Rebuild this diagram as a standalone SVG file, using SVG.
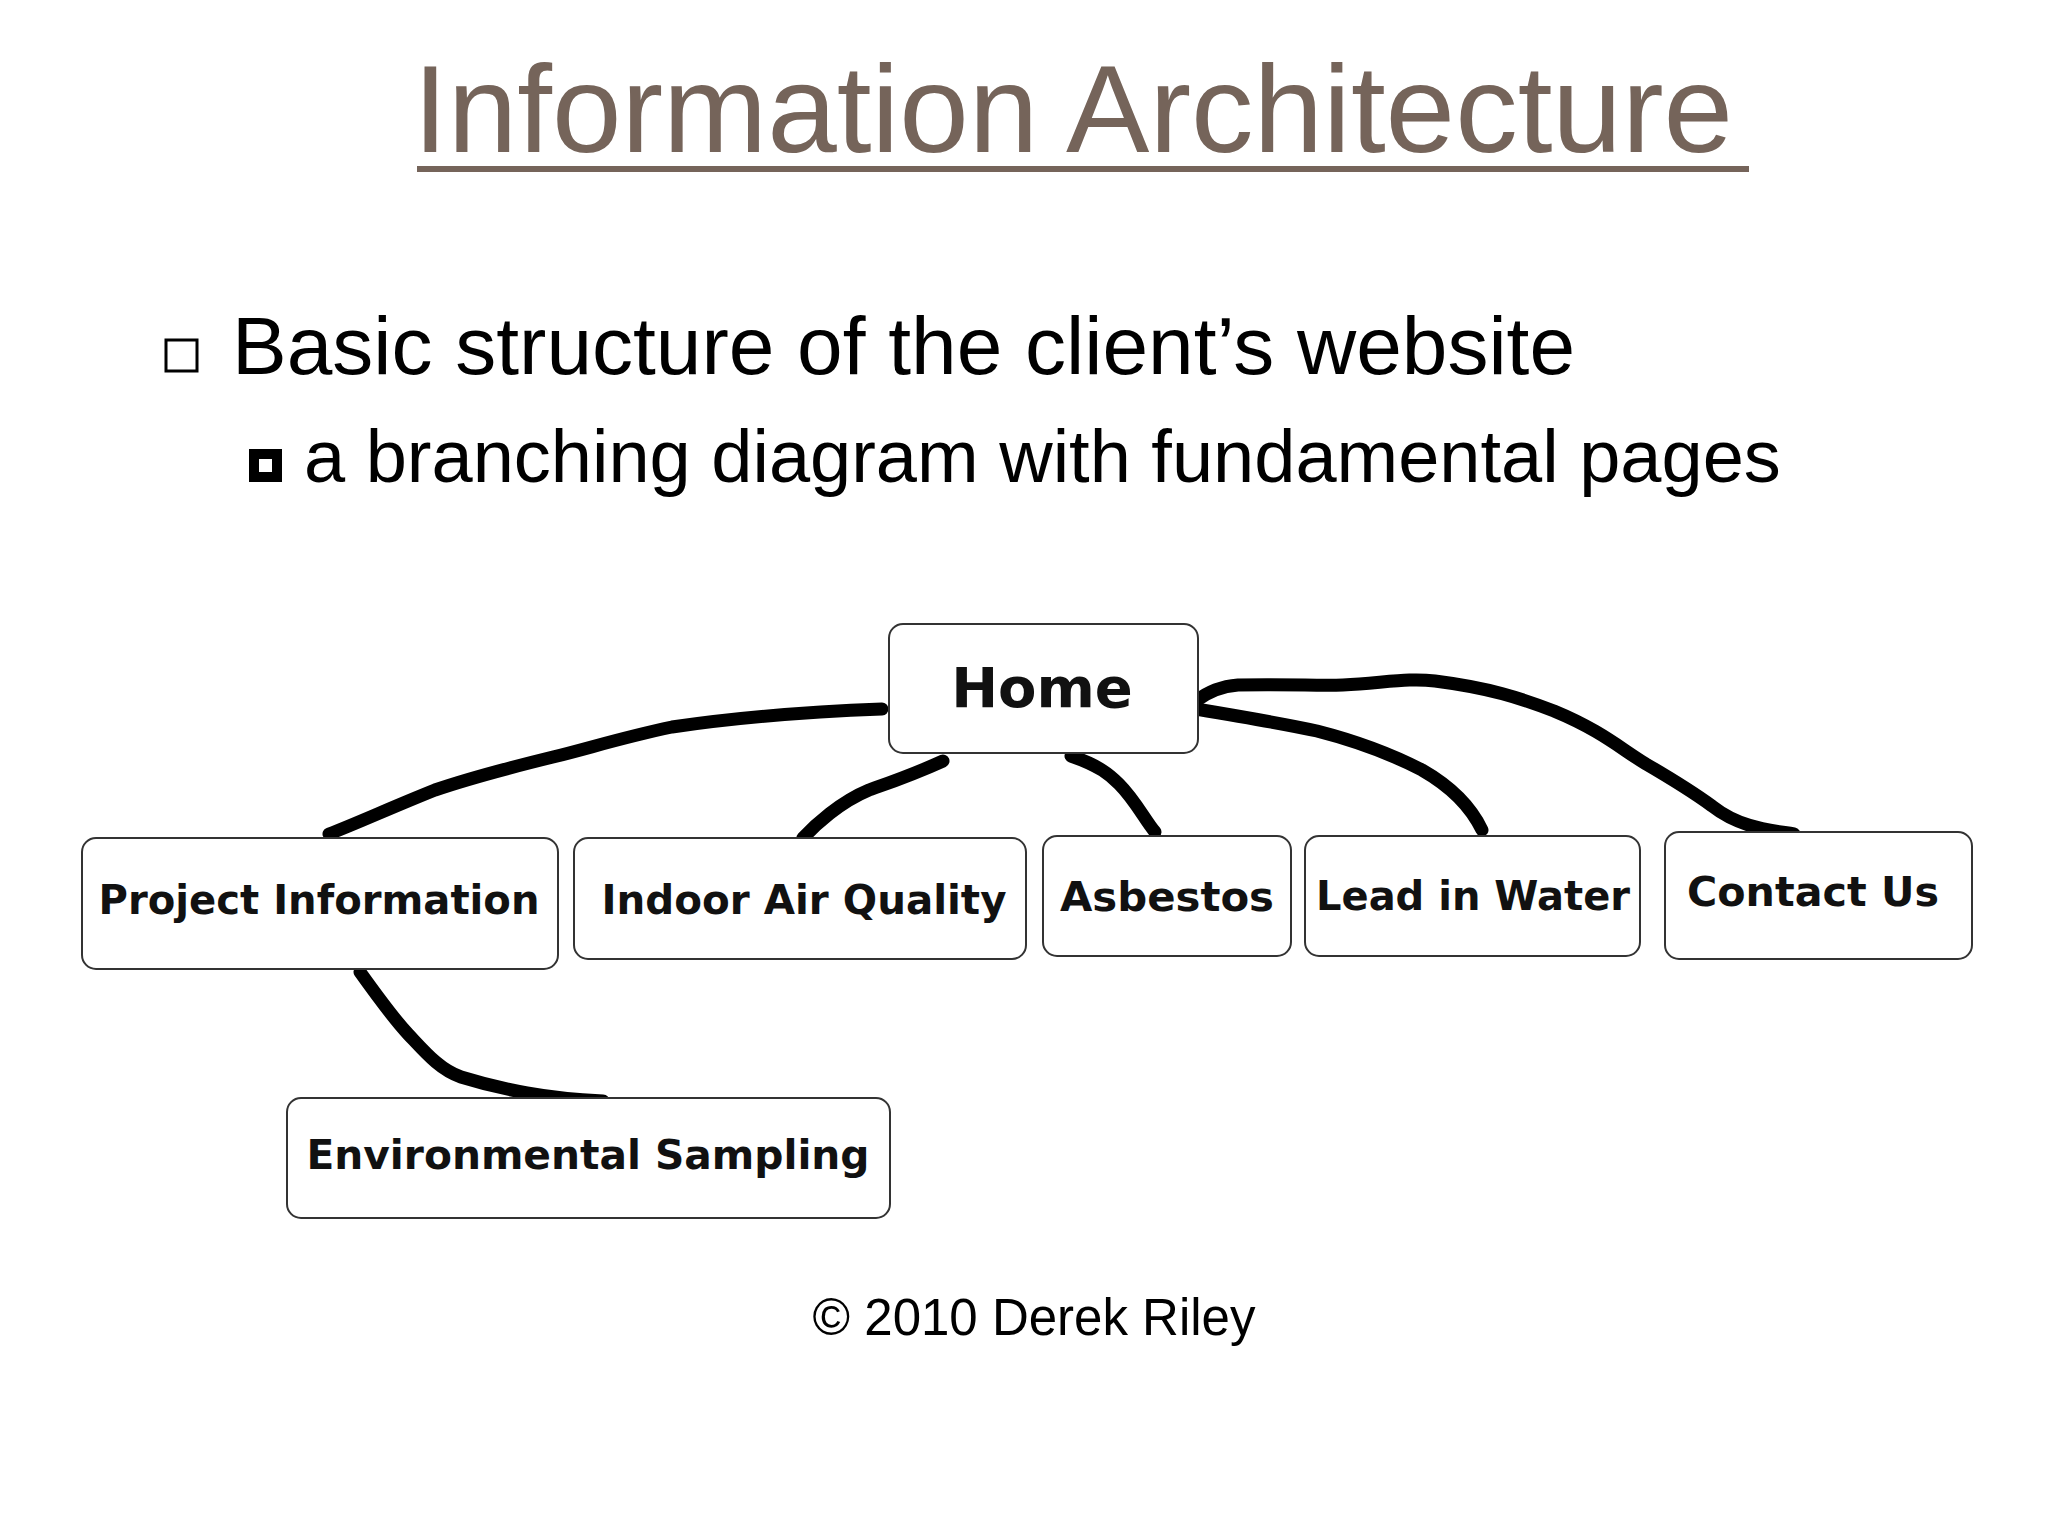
<svg xmlns="http://www.w3.org/2000/svg" width="2048" height="1536" viewBox="0 0 2048 1536">
<style>
.box{fill:#fff;stroke:#333;stroke-width:2}
.lbl{font-family:"DejaVu Sans",sans-serif;font-weight:bold;font-size:40px;fill:#111;text-anchor:middle}
.wire{fill:none;stroke:#000;stroke-width:13;stroke-linecap:round;stroke-linejoin:round}
.body{font-family:"Liberation Sans",Arial,sans-serif;fill:#000}
</style>
<rect width="2048" height="1536" fill="#fff"/>
<text x="1073" y="152" text-anchor="middle" class="body" font-size="125" style="fill:#75645a">Information Architecture</text>
<rect x="417" y="166" width="1332" height="6" fill="#75645a"/>
<rect x="166" y="340" width="31" height="31" fill="none" stroke="#000" stroke-width="3"/>
<text x="232" y="374" class="body" font-size="82">Basic structure of the client’s website</text>
<rect x="249" y="449" width="33" height="33" fill="#000"/>
<rect x="259" y="459" width="13" height="13" fill="#fff"/>
<text x="304" y="482" class="body" font-size="74">a branching diagram with fundamental pages</text>
<g id="connectors">
<path class="wire" d="M882,709 C800,712 720,720 672,727 C620,738 590,748 553,757 C500,770 470,778 435,790 C390,808 360,822 329,834"/>
<path class="wire" d="M943,761 C910,776 880,786 869,790 C840,802 815,825 803,838"/>
<path class="wire" d="M1071,756 C1100,766 1110,775 1119,784 C1135,800 1145,820 1155,832"/>
<path class="wire" d="M1196,709 C1250,718 1290,725 1317,731 C1360,742 1395,756 1422,770 C1450,786 1470,805 1482,830"/>
<path class="wire" d="M1196,701 C1210,690 1225,686 1238,685 C1290,684 1320,686 1343,685 C1390,682 1410,678 1435,681 C1490,688 1520,698 1554,711 C1600,730 1620,748 1646,764 C1670,778 1690,790 1712,806 C1740,828 1770,830 1794,834"/>
<path class="wire" d="M360,972 C380,1000 395,1020 408,1034 C425,1052 440,1070 461,1077 C490,1086 505,1089 527,1093 C560,1099 580,1100 603,1101"/>
</g>
<g id="home"><rect class="box" x="889" y="624" width="309" height="129" rx="14"/><text class="lbl" x="1042" y="707" style="font-size:56px">Home</text></g>
<g id="project"><rect class="box" x="82" y="838" width="476" height="131" rx="14"/><text class="lbl" x="319" y="914" textLength="441" lengthAdjust="spacingAndGlyphs">Project Information</text></g>
<g id="iaq"><rect class="box" x="574" y="838" width="452" height="121" rx="14"/><text class="lbl" x="804" y="914" textLength="405" lengthAdjust="spacingAndGlyphs">Indoor Air Quality</text></g>
<g id="asbestos"><rect class="box" x="1043" y="836" width="248" height="120" rx="14"/><text class="lbl" x="1167" y="911" textLength="214" lengthAdjust="spacingAndGlyphs">Asbestos</text></g>
<g id="lead"><rect class="box" x="1305" y="836" width="335" height="120" rx="14"/><text class="lbl" x="1473" y="910" textLength="314" lengthAdjust="spacingAndGlyphs">Lead in Water</text></g>
<g id="contact"><rect class="box" x="1665" y="832" width="307" height="127" rx="14"/><text class="lbl" x="1813" y="906" textLength="252" lengthAdjust="spacingAndGlyphs">Contact Us</text></g>
<g id="env"><rect class="box" x="287" y="1098" width="603" height="120" rx="14"/><text class="lbl" x="588" y="1169" textLength="563" lengthAdjust="spacingAndGlyphs">Environmental Sampling</text></g>
<text x="1034" y="1335" text-anchor="middle" class="body" font-size="51">© 2010 Derek Riley</text>
</svg>
